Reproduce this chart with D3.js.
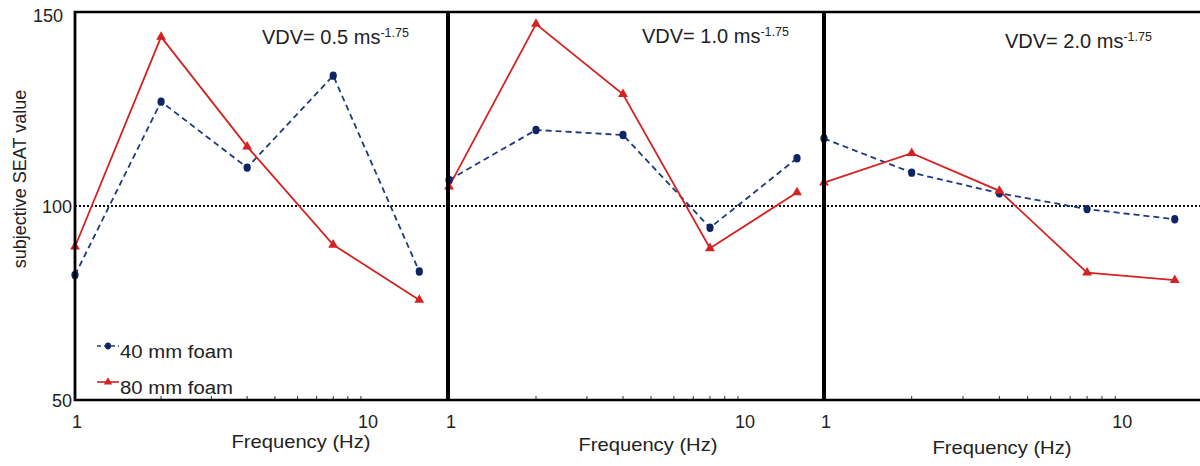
<!DOCTYPE html>
<html>
<head>
<meta charset="utf-8">
<script src="https://cdn.jsdelivr.net/npm/d3@7"></script>
<style>
  html, body { margin: 0; padding: 0; background: #fff; }
  svg { display: block; font-family: "Liberation Sans", Arial, sans-serif; }
</style>
</head>
<body>
<svg id="chart" width="1200" height="466"></svg>
<script>
// ---------- data ----------
const frequencies = [1, 2, 4, 8, 16];
const panelTitles = ["VDV= 0.5 ms", "VDV= 1.0 ms", "VDV= 2.0 ms"];
const titleExponent = "-1.75";
const seriesNames = ["40 mm foam", "80 mm foam"];
const foam40 = [
  [82.2, 126.9, 109.9, 133.6, 83.1],
  [106.7, 119.6, 118.3, 94.4, 112.3],
  [117.4, 108.6, 103.3, 99.2, 96.6]
];
const foam80 = [
  [89.5, 143.6, 115.3, 90.0, 75.8],
  [105.0, 146.9, 128.8, 89.1, 103.5],
  [106.0, 113.6, 103.9, 82.8, 80.9]
];
const yTicks = [50, 100, 150];
const xTickLabels = [1, 10];
const minorTicks = [2, 3, 4, 5, 6, 7, 8, 9, 10];
const referenceValue = 100;
const yLabel = "subjective SEAT value";
const xLabel = "Frequency (Hz)";

// ---------- layout ----------
const svg = d3.select("#chart");
const yTop = 12, yBottom = 400;
const panelLeft = [75, 449, 824];
const panelWidth = [372, 376, 379];
const titleOffset = [187, 193, 181];
const titleBase = [44, 43, 48];
const xTitleCenter = [301, 648, 1002];
const xTitleBase = [448, 451, 454];
const blue = "#1c3a7e", blueDark = "#0f2462", red = "#d42222";

const y = d3.scaleLinear().domain([50, 150]).range([yBottom, yTop]);
const xs = panelLeft.map((l, i) => d3.scaleLog().domain([1, 20]).range([l, l + panelWidth[i]]));

// reference dotted line
svg.append("line")
  .attr("x1", panelLeft[0]).attr("x2", 1200)
  .attr("y1", y(referenceValue)).attr("y2", y(referenceValue))
  .attr("stroke", "#111").attr("stroke-width", 2.2).attr("stroke-dasharray", "2,2");

// y axis labels (panel 1 only)
svg.selectAll("text.ytick").data(yTicks).join("text")
  .attr("class", "ytick")
  .attr("x", d => d === 150 ? 63 : 72)
  .attr("y", d => y(d) + (d === 150 ? 10 : 7))
  .attr("text-anchor", "end")
  .attr("font-size", 18).attr("fill", "#222")
  .text(d => d);

svg.append("text")
  .attr("transform", `translate(26,${(yTop + yBottom) / 2 - 27}) rotate(-90)`)
  .attr("text-anchor", "middle")
  .attr("font-size", 18).attr("fill", "#222")
  .text(yLabel);

const line = x => d3.line().x((d, i) => x(frequencies[i])).y(d => y(d));

xs.forEach((x, p) => {
  const g = svg.append("g");
  // minor ticks (pointing up inside)
  g.selectAll("line.minor").data(minorTicks).join("line")
    .attr("x1", d => x(d)).attr("x2", d => x(d))
    .attr("y1", yBottom).attr("y2", yBottom - 4)
    .attr("stroke", "#333").attr("stroke-width", 1);
  // tick labels
  g.selectAll("text.xt").data(xTickLabels).join("text")
    .attr("x", d => x(d) + (d === 1 ? 2 : 7))
    .attr("y", 428)
    .attr("text-anchor", "middle")
    .attr("font-size", 18).attr("fill", "#222")
    .text(d => d);
  // x title
  g.append("text")
    .attr("transform", `translate(${xTitleCenter[p]},${xTitleBase[p]}) scale(1.12,1)`)
    .attr("text-anchor", "middle")
    .attr("font-size", 18).attr("fill", "#222")
    .text(xLabel);
  // panel title
  const t = g.append("text")
    .attr("x", panelLeft[p] + titleOffset[p]).attr("y", titleBase[p])
    .attr("font-size", 20).attr("fill", "#222");
  t.append("tspan").text(panelTitles[p]);
  t.append("tspan").attr("font-size", 12.5).attr("dy", -7).text(titleExponent);

  // series lines
  g.append("path").datum(foam40[p])
    .attr("d", line(x)).attr("fill", "none")
    .attr("stroke", blue).attr("stroke-width", 1.8).attr("stroke-dasharray", "6,4");
  g.append("path").datum(foam80[p])
    .attr("d", line(x)).attr("fill", "none")
    .attr("stroke", red).attr("stroke-width", 1.8);
  // markers
  g.selectAll("ellipse.b").data(foam40[p]).join("ellipse")
    .attr("cx", (d, i) => x(frequencies[i])).attr("cy", d => y(d))
    .attr("rx", 3.6).attr("ry", 4.2).attr("fill", blueDark);
  g.selectAll("path.r").data(foam80[p]).join("path")
    .attr("transform", (d, i) => `translate(${x(frequencies[i])},${y(d)})`)
    .attr("d", d3.symbol(d3.symbolTriangle, 42)).attr("fill", red);
});

// frames
const frame = svg.append("g").attr("stroke", "#000").attr("fill", "none");
frame.append("line").attr("x1", 74).attr("x2", 1200).attr("y1", yTop).attr("y2", yTop).attr("stroke-width", 2.6);
frame.append("line").attr("x1", 74).attr("x2", 1200).attr("y1", yBottom).attr("y2", yBottom).attr("stroke-width", 2.6);
[75, 448, 824].forEach(xv => {
  frame.append("line").attr("x1", xv).attr("x2", xv).attr("y1", yTop - 1).attr("y2", yBottom + 1)
    .attr("stroke-width", xv === 75 ? 2.8 : 4);
});

// legend
const legend = svg.append("g");
const legendRows = [
  { name: seriesNames[0], color: blue, y: 346, dash: "4,3", marker: "circle" },
  { name: seriesNames[1], color: red, y: 382, dash: null, marker: "tri" }
];
legendRows.forEach(r => {
  legend.append("line").attr("x1", 97).attr("x2", 119).attr("y1", r.y).attr("y2", r.y)
    .attr("stroke", r.color).attr("stroke-width", 1.6).attr("stroke-dasharray", r.dash);
  if (r.marker === "circle") {
    legend.append("ellipse").attr("cx", 108).attr("cy", r.y).attr("rx", 3).attr("ry", 3.4).attr("fill", blueDark);
  } else {
    legend.append("path").attr("transform", `translate(108,${r.y})`)
      .attr("d", d3.symbol(d3.symbolTriangle, 30)).attr("fill", red);
  }
  legend.append("text")
    .attr("transform", `translate(120,${r.y + 12}) scale(1.13,1)`)
    .attr("font-size", 18).attr("fill", "#222")
    .text(r.name);
});
</script>
</body>
</html>
